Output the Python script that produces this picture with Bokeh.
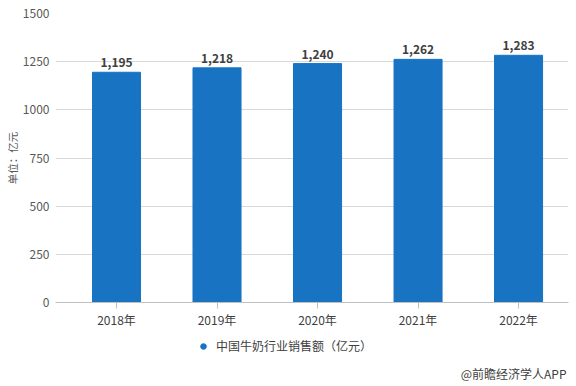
from bokeh.plotting import figure
from bokeh.layouts import column
from bokeh.models import Legend, LegendItem, Label, Range1d, ColumnDataSource, FixedTicker
from bokeh.core.properties import value
from bokeh.embed import file_html
from bokeh.resources import INLINE

years = ["2018年", "2019年", "2020年", "2021年", "2022年"]
sales = [1195, 1218, 1240, 1262, 1283]
sales_labels = ["1,195", "1,218", "1,240", "1,262", "1,283"]
y_ticks = [0, 250, 500, 750, 1000, 1250, 1500]
series_name = "中国牛奶行业销售额（亿元）"
unit_label = "单位：亿元"
source_note = "@前瞻经济学人APP"

FONT = "Noto Sans CJK SC"
BLUE = "#1874C2"
W = 570
LEFT = 55

xs = list(range(len(years)))
src = ColumnDataSource(dict(x=xs, y=sales, lab=sales_labels))

p = figure(width=W, height=330, output_backend="svg", toolbar_location=None,
           x_range=Range1d(-0.607, 4.497), y_range=Range1d(0, 1500),
           min_border_left=LEFT, min_border_right=2, min_border_top=13, min_border_bottom=25)
p.outline_line_color = None
p.background_fill_color = "white"

p.vbar(x="x", top="y", width=0.478, source=src, color=BLUE)
p.text(x="x", y="y", text="lab", source=src, text_align="center", text_baseline="bottom",
       y_offset=-5, text_font=value(FONT), text_font_size="12px", text_font_style="bold",
       text_color="#404040")

# y axis
p.yaxis.ticker = FixedTicker(ticks=y_ticks)
p.yaxis.axis_line_color = None
p.yaxis.major_tick_line_color = None
p.yaxis.minor_tick_line_color = None
p.yaxis.major_label_text_font = FONT
p.yaxis.major_label_text_font_size = "12px"
p.yaxis.major_label_text_color = "#595959"
p.yaxis.major_label_standoff = 0
p.yaxis.axis_label = unit_label
p.yaxis.axis_label_text_font = FONT
p.yaxis.axis_label_text_font_size = "10.5px"
p.yaxis.axis_label_text_font_style = "normal"
p.yaxis.axis_label_text_color = "#595959"
p.yaxis.axis_label_standoff = 0

# x axis
p.xaxis.ticker = FixedTicker(ticks=xs)
p.xaxis.major_label_overrides = {i: y for i, y in enumerate(years)}
p.xaxis.axis_line_color = "#BFBFBF"
p.xaxis.major_tick_line_color = "#BFBFBF"
p.xaxis.major_tick_in = 0
p.xaxis.major_tick_out = 6
p.xaxis.minor_tick_line_color = None
p.xaxis.major_label_text_font = FONT
p.xaxis.major_label_text_font_size = "12px"
p.xaxis.major_label_text_color = "#404040"
p.xaxis.major_label_standoff = 2

p.xgrid.grid_line_color = None
p.ygrid.grid_line_color = "#D9D9D9"
p.ygrid.ticker = FixedTicker(ticks=y_ticks)

# bottom strip: legend + source note (frame aligned with the main plot's frame)
f = figure(width=W, height=54, output_backend="svg", toolbar_location=None,
           x_range=Range1d(0, 1), y_range=Range1d(0, 1),
           min_border=0)
f.outline_line_color = None
f.axis.visible = False
f.grid.visible = False
dot = f.scatter(x=[-10], y=[-10], marker="circle", size=11, color=BLUE)

legend = Legend(items=[LegendItem(label=series_name, renderers=[dot])],
                location=(196 - LEFT, 30), orientation="horizontal",
                border_line_color=None, background_fill_alpha=0,
                label_text_font=FONT, label_text_font_size="12px",
                label_text_color="#404040", glyph_width=14, glyph_height=14,
                padding=2, margin=0, label_standoff=6)
f.add_layout(legend, "center")

footer = Label(x=566 - LEFT, y=11, x_units="screen", y_units="screen", text=source_note,
               text_align="right", text_baseline="middle", text_font=FONT,
               text_font_size="12px", text_color="#404040")
f.add_layout(footer)

open("out.html", "w").write(file_html(column(p, f, spacing=0), INLINE))
